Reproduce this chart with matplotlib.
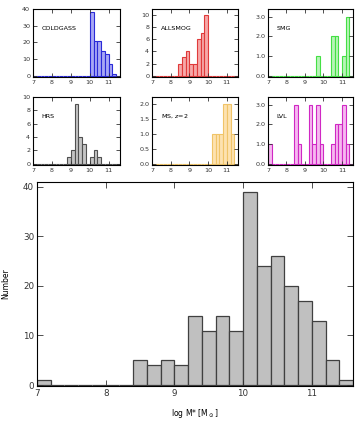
import matplotlib
matplotlib.use("Agg")
import matplotlib.pyplot as plt
import numpy as np

# bin left edges (width 0.2) from 7.0 to 11.4
bin_left = [round(7.0 + 0.2 * i, 1) for i in range(23)]
bin_width = 0.2

main_counts = [1, 0, 0, 0, 0, 0, 0, 5, 4, 5, 4, 14, 11, 14, 11, 39, 24, 26, 20, 17, 13, 5, 1]
coldgass = [0]*15 + [38, 21, 21, 15, 13, 7, 1, 0]
allsmog = [0]*7 + [2, 3, 4, 2, 2, 6, 7, 10] + [0]*8
smg = [0]*13 + [1, 0, 0, 0, 2, 2, 0, 1, 3, 0]
hrs = [0]*9 + [1, 2, 9, 4, 3, 0, 1, 2, 1] + [0]*5
ms_z2 = [0]*16 + [1, 1, 1, 2, 2, 1, 0]
lvl = [1, 0, 0, 0, 0, 0, 0, 3, 1, 0, 0, 3, 1, 3, 1, 0, 0, 1, 2, 2, 3, 1, 0]

W, H = 358, 421
fig = plt.figure(figsize=(W/100, H/100), dpi=100)

def px_axes(x0, x1, ytop, ybot):
    return fig.add_axes([x0/W, 1 - ybot/H, (x1-x0)/W, (ybot-ytop)/H])

def style(ax, fs):
    ax.tick_params(direction='in', top=True, right=True, labelsize=fs, length=3, width=0.6, pad=2,
                   colors='#333333', labelcolor='#333333')
    for s in ax.spines.values():
        s.set_linewidth(0.8)
    ax.set_xlim(7.0, 11.6)
    ax.set_xticks([7, 8, 9, 10, 11])

panels = [
    (coldgass, 'COLDGASS', '#a8a8f4', '#2a2ad8', (33, 120, 9, 77), 40, [0, 10, 20, 30, 40], '%d'),
    (allsmog, 'ALLSMOG', '#f6a8a8', '#e03a3a', (152, 238, 9, 77), 11, [0, 2, 4, 6, 8, 10], '%d'),
    (smg, 'SMG', '#b8f4b8', '#44e044', (268, 353, 9, 77), 3.4, [0, 1, 2, 3], '%.1f'),
    (hrs, 'HRS', '#c4c4c4', '#505050', (33, 120, 97, 165), 10, [0, 2, 4, 6, 8, 10], '%d'),
    (ms_z2, 'MS, $z$=2', '#fde2b0', '#f0c468', (152, 238, 97, 165), 2.25, [0, 0.5, 1.0, 1.5, 2.0], '%.1f'),
    (lvl, 'LVL', '#f6b8f0', '#d028c4', (268, 353, 97, 165), 3.4, [0, 1, 2, 3], '%.1f'),
]

for counts, label, fc, ec, box, ymax, yt, fmt in panels:
    ax = px_axes(*box)
    ax.bar(bin_left, counts, width=bin_width, align='edge', color=fc, edgecolor=ec, linewidth=0.8)
    style(ax, 4.6)
    ax.set_ylim(-0.02 * ymax, ymax)
    ax.set_yticks(yt)
    ax.set_yticklabels([fmt % v for v in yt])
    ax.text(0.1, 0.72, label, transform=ax.transAxes, fontsize=4.6, ha='left', va='center')

ax = px_axes(37, 353, 182, 386)
ax.bar(bin_left, main_counts, width=bin_width, align='edge', color='#c0c0c0', edgecolor='#404040', linewidth=0.9)
style(ax, 6.3)
ax.tick_params(length=4)
ax.set_ylim(-0.2, 41)
ax.set_yticks([0, 10, 20, 30, 40])
ax.set_ylabel('Number', fontsize=5.5)
ax.yaxis.set_label_coords(-0.085, 0.5)
ax.set_xlabel(r'log M* [M$_\odot$]', fontsize=5.5, labelpad=7)

fig.savefig('out.png', dpi=100)
